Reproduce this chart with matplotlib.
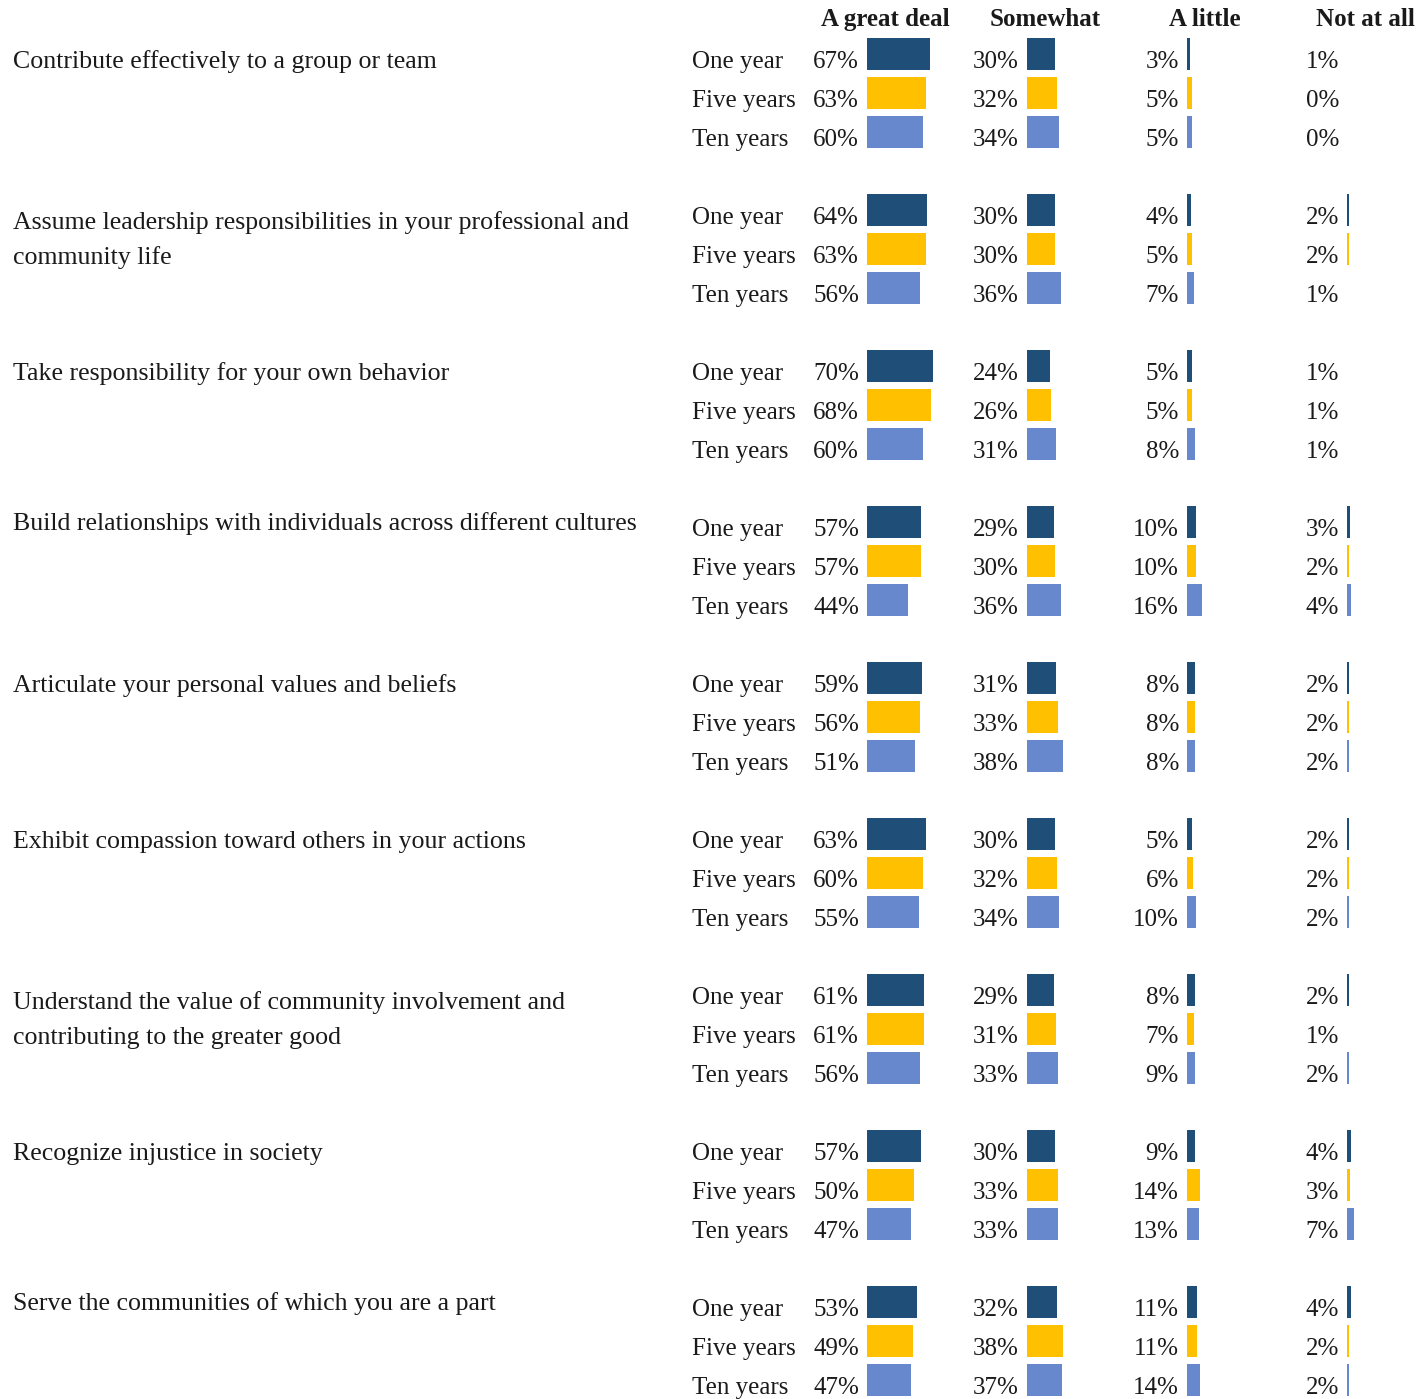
import matplotlib.pyplot as plt

items = [
    "Contribute effectively to a group or team",
    "Assume leadership responsibilities in your professional and\ncommunity life",
    "Take responsibility for your own behavior",
    "Build relationships with individuals across different cultures",
    "Articulate your personal values and beliefs",
    "Exhibit compassion toward others in your actions",
    "Understand the value of community involvement and\ncontributing to the greater good",
    "Recognize injustice in society",
    "Serve the communities of which you are a part",
]
periods = ["One year", "Five years", "Ten years"]
answers = ["A great deal", "Somewhat", "A little", "Not at all"]

# one row per item, one value per period (one, five, ten years)
great_deal = [[67, 63, 60], [64, 63, 56], [70, 68, 60], [57, 57, 44], [59, 56, 51],
              [63, 60, 55], [61, 61, 56], [57, 50, 47], [53, 49, 47]]
somewhat = [[30, 32, 34], [30, 30, 36], [24, 26, 31], [29, 30, 36], [31, 33, 38],
            [30, 32, 34], [29, 31, 33], [30, 33, 33], [32, 38, 37]]
a_little = [[3, 5, 5], [4, 5, 7], [5, 5, 8], [10, 10, 16], [8, 8, 8],
            [5, 6, 10], [8, 7, 9], [9, 14, 13], [11, 11, 14]]
not_at_all = [[1, 0, 0], [2, 2, 1], [1, 1, 1], [3, 2, 4], [2, 2, 2],
              [2, 2, 2], [2, 1, 2], [4, 3, 7], [4, 2, 2]]

colors = ["#1F4E79", "#FFC000", "#6788CD"]
text_color = "#1a1a1a"

plt.rcParams['font.family'] = ['Liberation Serif', 'DejaVu Serif']

fig = plt.figure(figsize=(14.27, 13.99), dpi=100)
ax = fig.add_axes([0, 0, 1, 1])
ax.set_xlim(0, 1427)
ax.set_ylim(1399, 0)
ax.axis('off')

fs = 18
col_x = [867, 1027, 1187, 1347]   # bar start of each answer column
scale = 0.94                       # px per percent
row_step, group_step, first_base = 39, 156, 68
label_dy = [0, 5, 0, -6, 0, 0, 5, 0, -6]

for j, a in enumerate(answers):
    ax.text(col_x[j] + 18, 26, a, fontsize=fs, fontweight='bold', ha='center',
            va='baseline', color=text_color)

series = [great_deal, somewhat, a_little, not_at_all]
for g, item in enumerate(items):
    gbase = first_base + g * group_step
    for k, line in enumerate(item.split("\n")):
        ax.text(13, gbase + label_dy[g] + k * 35, line, fontsize=18.6, ha='left',
                va='baseline', color=text_color)
    for r, p in enumerate(periods):
        base = gbase + r * row_step
        ax.text(692, base, p, fontsize=fs, ha='left', va='baseline', color=text_color)
        for j, s in enumerate(series):
            v = s[g][r]
            ax.text(col_x[j] - 8, base, f"{v}%", fontsize=fs, ha='right',
                    va='baseline', color=text_color)
            # 1% bars are not visible in the original (rounded-up values)
            if v > 1:
                ax.barh(base - 14, v * scale, left=col_x[j], height=32,
                        color=colors[r], linewidth=0)

fig.savefig("out.png", dpi=100)
